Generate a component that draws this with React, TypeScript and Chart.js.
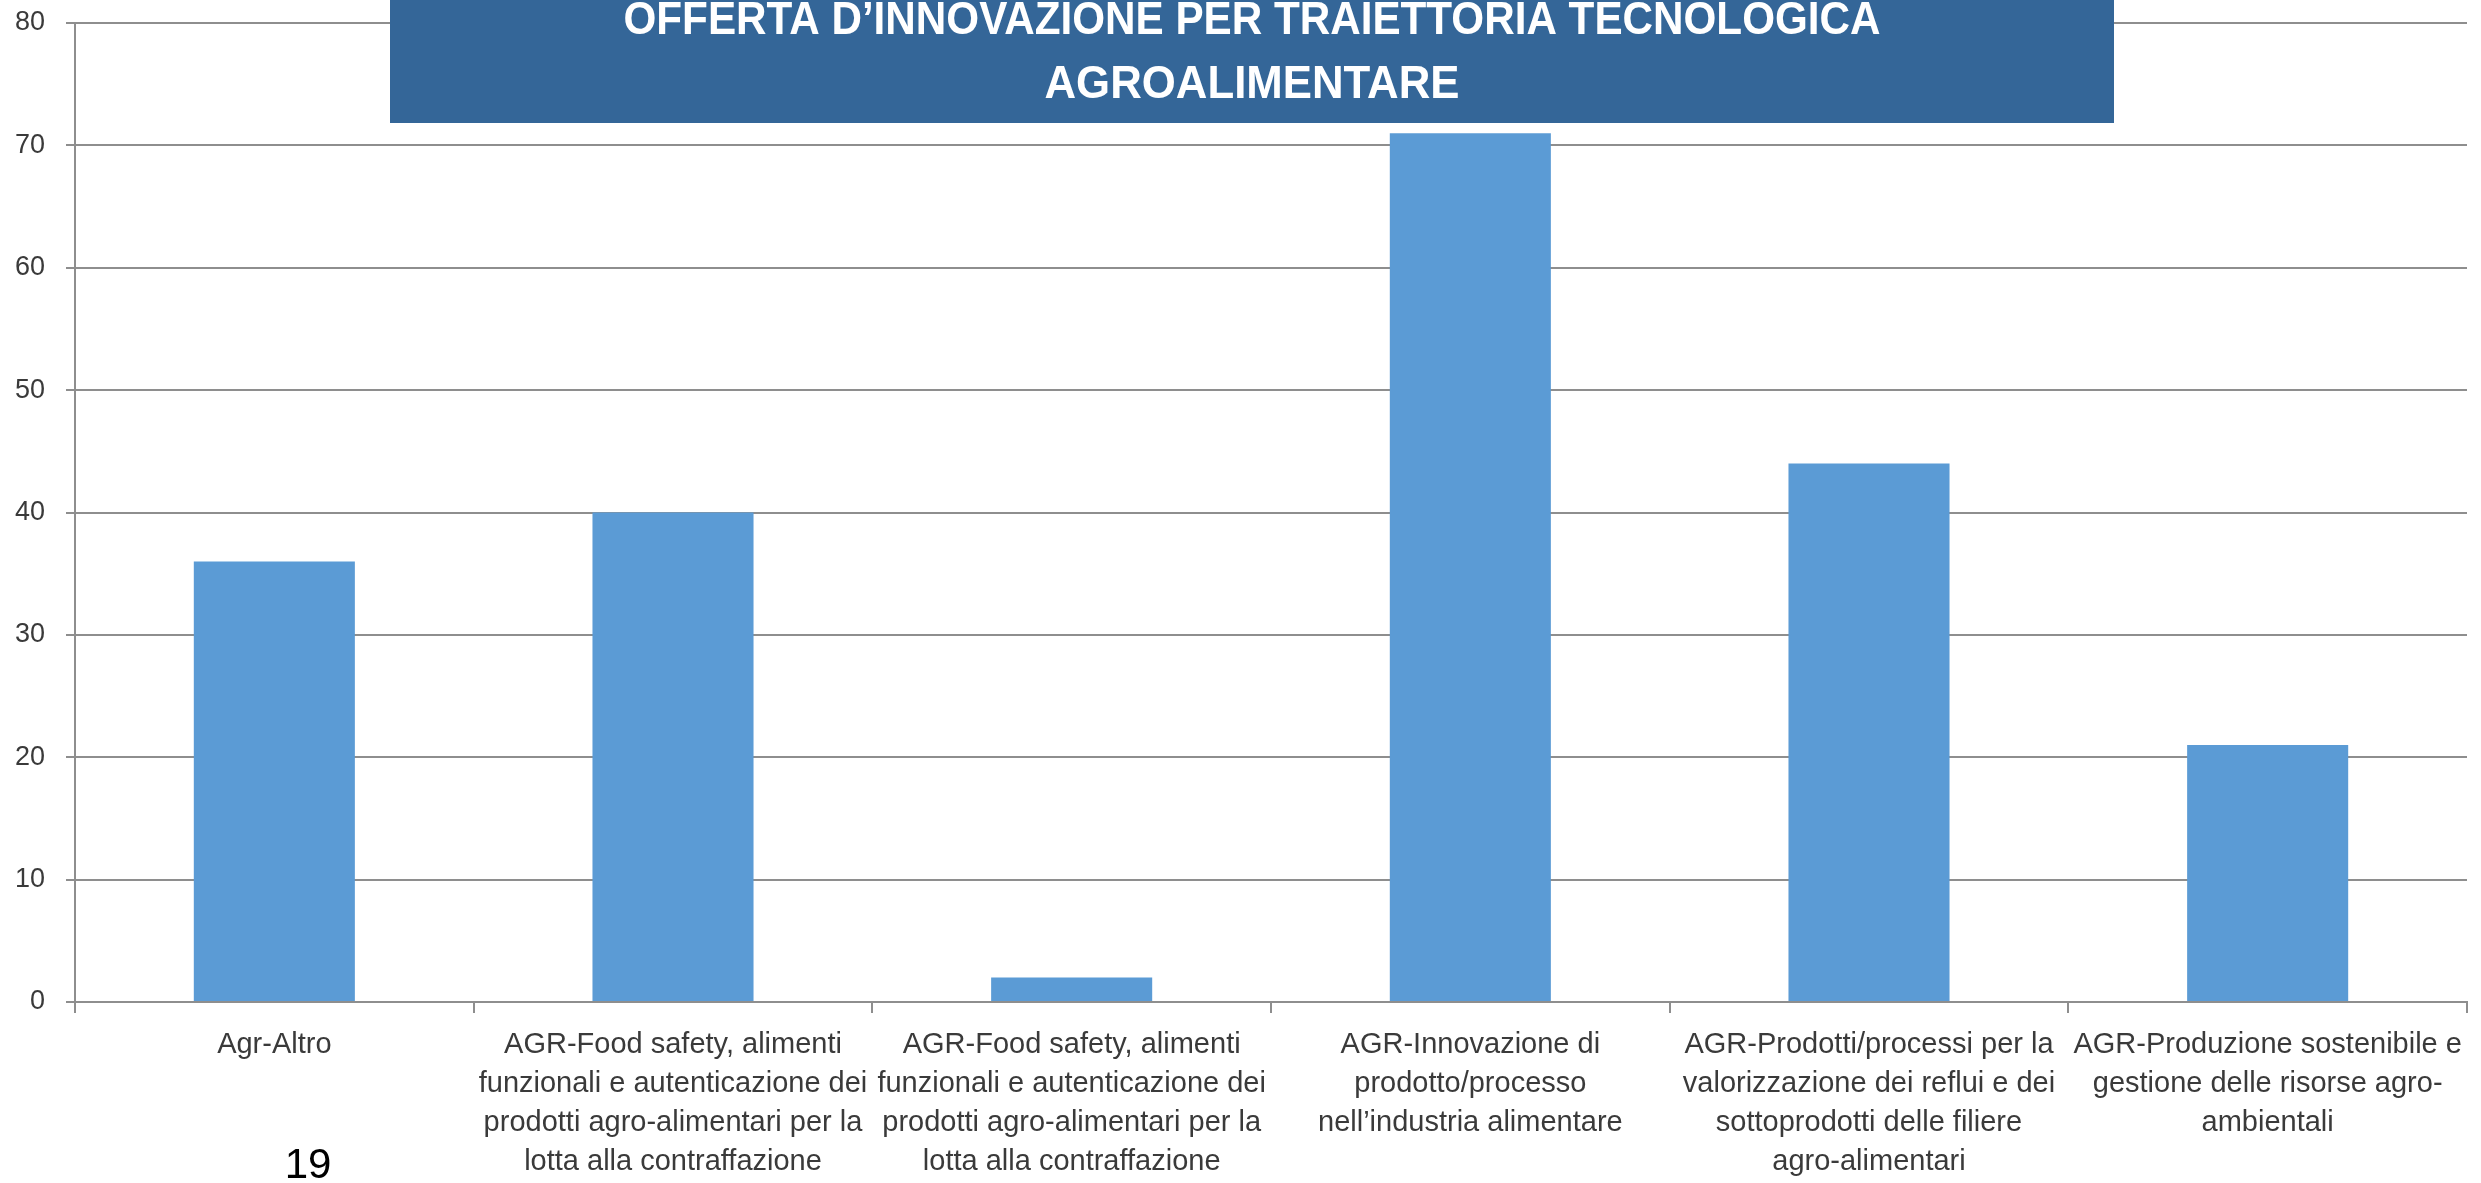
import React, { useEffect, useRef } from "react";
import { Chart, registerables } from "chart.js";

Chart.register(...registerables);

const categories: string[][] = [
  ["Agr-Altro"],
  ["AGR-Food safety, alimenti", "funzionali e autenticazione dei", "prodotti agro-alimentari per la", "lotta alla contraffazione"],
  ["AGR-Food safety, alimenti", "funzionali e autenticazione dei", "prodotti agro-alimentari per la", "lotta alla contraffazione"],
  ["AGR-Innovazione di", "prodotto/processo", "nell\u2019industria alimentare"],
  ["AGR-Prodotti/processi per la", "valorizzazione dei reflui e dei", "sottoprodotti delle filiere", "agro-alimentari"],
  ["AGR-Produzione sostenibile e", "gestione delle risorse agro-", "ambientali"],
];
const values: number[] = [36, 40, 2, 71, 44, 21];
const titleLines: string[] = ["OFFERTA D\u2019INNOVAZIONE PER TRAIETTORIA TECNOLOGICA", "AGROALIMENTARE"];
const pageNumber = "19";

const W = 2481;
const H = 1183;
const GRID = "#8e8e8e";
const TEXT = "#3a3a3a";
const FONT = "'Liberation Sans', Arial, sans-serif";

const overlayPlugin = {
  id: "overlay",
  afterDraw(chart: any) {
    const ctx = chart.ctx as CanvasRenderingContext2D;
    ctx.save();
    // title box
    ctx.fillStyle = "#346698";
    ctx.fillRect(390, 0, 1724, 123);
    ctx.fillStyle = "#ffffff";
    ctx.font = `bold 46px ${FONT}`;
    ctx.textAlign = "center";
    ctx.textBaseline = "alphabetic";
    const cx = 1252;
    const targets = [1257, 415];
    const baselines = [34, 98];
    titleLines.forEach((t, i) => {
      const w = ctx.measureText(t).width;
      const sx = targets[i] / w;
      ctx.save();
      ctx.translate(cx, baselines[i]);
      ctx.scale(sx, 1);
      ctx.fillText(t, 0, 0);
      ctx.restore();
    });
    // page number
    ctx.fillStyle = "#000000";
    ctx.font = `42px ${FONT}`;
    ctx.textAlign = "center";
    ctx.fillText(pageNumber, 308, 1178);
    ctx.restore();
  },
};

export default function App() {
  const ref = useRef<HTMLCanvasElement | null>(null);
  useEffect(() => {
    document.body.style.margin = "0";
    document.body.style.overflow = "hidden";
    const canvas = ref.current!;
    const chart = new Chart(canvas, {
      type: "bar",
      data: {
        labels: categories,
        datasets: [
          {
            data: values,
            backgroundColor: "#5B9BD5",
            borderWidth: 0,
            barPercentage: 0.404,
            categoryPercentage: 1,
          },
        ],
      },
      options: {
        responsive: false,
        animation: false,
        devicePixelRatio: 1,
        layout: { padding: { top: 23, right: 14, left: 0, bottom: 0 } },
        plugins: { legend: { display: false }, tooltip: { enabled: false }, title: { display: false } },
        scales: {
          x: {
            offset: true,
            grid: {
              drawOnChartArea: false,
              drawTicks: true,
              tickLength: 11,
              color: GRID,
              lineWidth: 2,
              offset: true,
            },
            border: { display: true, color: GRID, width: 2 },
            ticks: {
              autoSkip: false,
              maxRotation: 0,
              minRotation: 0,
              padding: 12,
              color: TEXT,
              font: { family: FONT, size: 29, lineHeight: 1.345 },
            },
            afterFit(scale: any) {
              scale.height = 181;
              scale.paddingLeft = 0;
              scale.paddingRight = 0;
            },
          },
          y: {
            min: 0,
            max: 80,
            ticks: {
              stepSize: 10,
              padding: 21,
              color: TEXT,
              font: { family: FONT, size: 27 },
            },
            grid: { color: GRID, lineWidth: 2, tickLength: 9, drawTicks: true },
            border: { display: true, color: GRID, width: 2 },
            afterFit(scale: any) {
              scale.width = 75;
              scale.paddingTop = 0;
              scale.paddingBottom = 0;
            },
          },
        },
      },
      plugins: [overlayPlugin],
    });
    return () => chart.destroy();
  }, []);
  return (
    <div style={{ width: W, height: H, background: "#ffffff" }}>
      <canvas ref={ref} width={W} height={H} style={{ display: "block" }} />
    </div>
  );
}
